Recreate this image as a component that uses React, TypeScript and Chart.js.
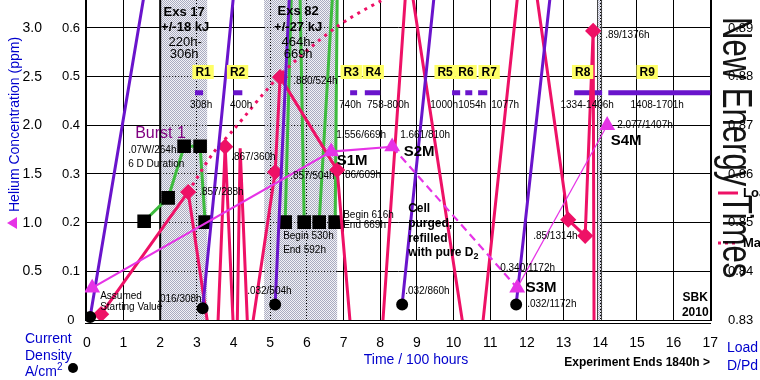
import React, { useEffect, useRef } from 'react';
import { Chart, registerables } from 'chart.js';

Chart.register(...registerables);

const FONT = '"Liberation Sans", Arial, Helvetica, sans-serif';
const PINK = '#ee1166';
const MAGENTA = '#e633e6';
const PURPLE = '#6a14cc';
const GREEN = '#3dbb3d';
const BLUE = '#0000cc';

// ---- axes ----
const xTickValues = [0, 1, 2, 3, 4, 5, 6, 7, 8, 9, 10, 11, 12, 13, 14, 15, 16, 17];
const cdTickValues = [0, 0.1, 0.2, 0.3, 0.4, 0.5, 0.6];
const heTickValues = [0.5, 1.0, 1.5, 2.0, 2.5, 3.0];
const loadTickValues = [0.83, 0.84, 0.85, 0.86, 0.87, 0.88, 0.89];

// ---- helium (ppm) ----
const heTime = [0.145, 6.662, 8.326, 11.735, 14.189];
const hePpm = [0.33, 1.73, 1.78, 0.33, 2.0];

// ---- current density ramps (A/cm2) ----
const cdStartTime = [0.09, 3.158, 5.135, 8.598, 11.707];
const cdStartValue = [0.006, 0.024, 0.032, 0.032, 0.032];
const cdEndTime = [1.634, 4.044, 5.544, 9.517, 12.686];
const cdEndValue = [0.7, 0.7, 0.7, 0.7, 0.7];

// ---- load D/Pd ----
const loadTime = [0.39, 2.763, 3.515, 3.772, 4.072, 4.181, 4.41, 5.135, 5.271, 6.826, 7.671, 8.748, 10.573, 11.972, 13.126, 13.589, 13.807, 13.834];
const loadValue = [0.8312, 0.8563, 0.8181, 0.8656, 0.8156, 0.8653, 0.8236, 0.8604, 0.8799, 0.8608, 0.786, 0.9032, 0.8134, 0.9126, 0.8506, 0.8473, 0.8894, 0.8218];
const loadMarked = [true, true, false, true, false, false, false, true, true, true, false, false, false, false, true, true, true, false];

// ---- max load ----
const maxTime = [2.763, 3.444, 3.99, 5.271, 6.771, 8.08, 9.36];
const maxLoad = [0.8563, 0.8643, 0.869, 0.8803, 0.89, 0.8958, 0.9];

// ---- bursts ----
const burst1Time = [1.563, 2.217, 2.653, 3.089, 3.226];
const burst1Value = [0.203, 0.251, 0.357, 0.357, 0.201];
const burst2StartTime = [5.408, 5.927, 6.336, 6.771];
const burst2StartValue = [0.201, 0.201, 0.201, 0.201];
const burst2EndTime = [5.588, 5.806, 6.725, 6.831];
const burst2EndValue = [0.7, 0.7, 0.7, 0.7];

// ---- runs R1..R9 ----
const runNames = ['R1', 'R2', 'R3', 'R4', 'R5', 'R6', 'R7', 'R8', 'R9'];
const runStart = [2.95, 3.99, 7.18, 7.58, 9.96, 10.32, 10.67, 13.29, 14.22];
const runEnd = [3.17, 4.24, 7.37, 8.0, 10.18, 10.51, 10.92, 14.05, 17.0];
const runLevel = 0.467;
const runLabelTime = [3.17, 4.11, 7.21, 7.81, 9.77, 10.34, 10.97, 13.52, 15.28];
const runHours = ['308h', '400h', '740h', '758-800h', '1000h', '1054h', '1077h', '1334-1406h', '1408-1701h'];
const runHourTime = [3.116, 4.208, 7.18, 8.216, 9.744, 10.508, 11.408, 13.644, 15.553];

// ---- excess heat periods ----
const exsStart = [2.0, 4.835, 13.916];
const exsEnd = [3.281, 6.826, 14.053];

// ---- annotations (text, time, current-density-axis value) ----
const pointNotes: [string, number, number][] = [
  ['.07W/264h', 1.126, 0.349],
  ['6 D Duration', 1.126, 0.321],
  ['.857/288h', 3.063, 0.263],
  ['.867/360h', 3.935, 0.335],
  ['.880/524h', 5.626, 0.491],
  ['.857/504h', 5.544, 0.296],
  ['.86/609h', 6.962, 0.298],
  ['1.556/669h', 6.798, 0.38],
  ['1.661/810h', 8.543, 0.38],
  ['2.077/1407h', 14.461, 0.401],
  ['.89/1376h', 14.134, 0.586],
  ['.85/1314h', 12.171, 0.173],
  ['0.340/1172h', 11.271, 0.107],
  ['.032/1172h', 12.007, 0.033],
  ['.032/860h', 8.68, 0.06],
  ['.032/504h', 4.371, 0.06],
  ['.016/308h', 1.917, 0.043],
  ['Assumed', 0.363, 0.049],
  ['Starting Value', 0.363, 0.027],
  ['Begin 530h', 5.353, 0.173],
  ['End 592h', 5.353, 0.144],
  ['Begin 616h', 6.99, 0.216],
  ['End 669h', 6.99, 0.195],
];
const exsNotes: [string, number, number, boolean][] = [
  ['Exs 17', 2.653, 0.633, true],
  ['+/-18 kJ', 2.681, 0.602, true],
  ['220h-', 2.681, 0.571, false],
  ['306h', 2.653, 0.545, false],
  ['Exs 82', 5.762, 0.635, true],
  ['+/-27 kJ', 5.762, 0.602, true],
  ['464h-', 5.762, 0.571, false],
  ['669h', 5.762, 0.545, false],
];
const sampleNotes: [string, number, number][] = [
  ['S1M', 7.235, 0.327],
  ['S2M', 9.062, 0.345],
  ['S3M', 12.389, 0.066],
  ['S4M', 14.707, 0.368],
];
const cellLines = ['Cell', 'purged,', 'refilled', 'with pure D'];
const cellTime = 8.762;
const cellLevels = [0.228, 0.197, 0.168, 0.138];

const pts = (xs: number[], ys: number[]) => xs.map((x, i) => ({ x, y: ys[i] }));
const segs = (x0: number[], y0: number[], x1: number[], y1: number[]) =>
  x0.flatMap((x, i) => [{ x, y: y0[i] }, { x: x1[i], y: y1[i] }, { x: x1[i], y: null as any }]);

function makePattern(ctx: CanvasRenderingContext2D) {
  const c = document.createElement('canvas');
  c.width = 2;
  c.height = 2;
  const g = c.getContext('2d')!;
  g.fillStyle = '#f2f2f6';
  g.fillRect(0, 0, 2, 2);
  g.fillStyle = '#a9abc0';
  g.fillRect(0, 0, 1, 1);
  g.fillRect(1, 1, 1, 1);
  return ctx.createPattern(c, 'repeat')!;
}

function txt(ctx: CanvasRenderingContext2D, s: string, x: number, y: number, font: string, color = '#000', align: CanvasTextAlign = 'left', base: CanvasTextBaseline = 'middle') {
  ctx.font = font;
  ctx.fillStyle = color;
  ctx.textAlign = align;
  ctx.textBaseline = base;
  ctx.fillText(s, x, y);
}

const overlay = {
  id: 'overlay',
  beforeDraw(chart: any) {
    const { ctx } = chart;
    ctx.save();
    ctx.fillStyle = '#fff';
    ctx.fillRect(0, 0, chart.width, chart.height);
    ctx.restore();
  },
  beforeDatasetsDraw(chart: any) {
    const { ctx, chartArea: a, scales } = chart;
    const xs = scales.x, ys = scales.y;
    const pat = makePattern(ctx);
    ctx.save();
    exsStart.forEach((s, i) => {
      const x0 = xs.getPixelForValue(s), x1 = xs.getPixelForValue(exsEnd[i]);
      ctx.fillStyle = pat;
      ctx.fillRect(x0, a.top, x1 - x0, a.bottom - a.top);
      ctx.strokeStyle = '#000';
      ctx.lineWidth = 1;
      ctx.setLineDash([1, 2]);
      ctx.beginPath();
      xTickValues.forEach((v) => {
        const p = Math.round(xs.getPixelForValue(v) - 0.5) + 0.5;
        if (p > x0 + 1 && p < x1 - 1) { ctx.moveTo(p, a.top); ctx.lineTo(p, a.bottom); }
      });
      cdTickValues.forEach((v) => {
        if (v <= 0) return;
        const p = Math.round(ys.getPixelForValue(v) - 0.5) + 0.5;
        ctx.moveTo(x0, p); ctx.lineTo(x1, p);
      });
      ctx.stroke();
      ctx.setLineDash([]);
      if (i === 0) {
        ctx.lineWidth = 2;
        ctx.beginPath(); ctx.moveTo(x0, a.top); ctx.lineTo(x0, a.bottom); ctx.stroke();
      }
      if (i === 2) {
        ctx.strokeStyle = '#444';
        ctx.lineWidth = 1;
        ctx.beginPath();
        ctx.moveTo(Math.round(x0) + 0.5, a.top); ctx.lineTo(Math.round(x0) + 0.5, a.bottom);
        ctx.moveTo(Math.round(x1) - 0.5, a.top); ctx.lineTo(Math.round(x1) - 0.5, a.bottom);
        ctx.stroke();
      }
    });
    ctx.restore();
  },
  afterDatasetsDraw(chart: any) {
    const { ctx, chartArea: a, scales } = chart;
    const xs = scales.x, ys = scales.y;
    const X = (v: number) => xs.getPixelForValue(v);
    const Y = (v: number) => ys.getPixelForValue(v);
    ctx.save();
    // double bottom axis line
    ctx.strokeStyle = '#000';
    ctx.lineWidth = 1;
    ctx.beginPath();
    ctx.moveTo(a.left, a.bottom + 3.5);
    ctx.lineTo(a.right, a.bottom + 3.5);
    ctx.stroke();

    // run labels (yellow boxes)
    runNames.forEach((s, i) => {
      const px = X(runLabelTime[i]), py = ys.getPixelForValue(0.5096);
      ctx.font = `bold 12px ${FONT}`;
      const w = ctx.measureText(s).width + 6;
      ctx.fillStyle = '#ffff66';
      ctx.fillRect(px - w / 2, py - 7, w, 14);
      txt(ctx, s, px, py + 0.5, `bold 12px ${FONT}`, '#000', 'center');
    });
    runHours.forEach((s, i) => txt(ctx, s, X(runHourTime[i]), Y(0.442), `10px ${FONT}`, '#000', 'center'));

    pointNotes.forEach(([s, x, y]) => txt(ctx, s, X(x), Y(y), `10px ${FONT}`));
    exsNotes.forEach(([s, x, y, b]) => txt(ctx, s, X(x), Y(y), `${b ? 'bold ' : ''}13px ${FONT}`, '#000', 'center'));
    sampleNotes.forEach(([s, x, y]) => txt(ctx, s, X(x), Y(y), `bold 15px ${FONT}`, '#000', 'center'));
    txt(ctx, 'Burst 1', X(1.317), Y(0.382), `16px ${FONT}`, '#800080');

    cellLines.forEach((s, i) => {
      const px = X(cellTime), py = Y(cellLevels[i]);
      txt(ctx, s, px, py, `bold 12px ${FONT}`);
      if (i === cellLines.length - 1) {
        ctx.font = `bold 12px ${FONT}`;
        const w = ctx.measureText(s).width;
        txt(ctx, '2', px + w, py + 4, `bold 9px ${FONT}`);
      }
    });
    txt(ctx, 'SBK', X(16.59), Y(0.045), `bold 12px ${FONT}`, '#000', 'center');
    txt(ctx, '2010', X(16.59), Y(0.016), `bold 12px ${FONT}`, '#000', 'center');

    // outer texts
    txt(ctx, 'Current', 25, 343, `14px ${FONT}`, BLUE, 'left', 'alphabetic');
    txt(ctx, 'Density', 25, 360, `14px ${FONT}`, BLUE, 'left', 'alphabetic');
    txt(ctx, 'A/cm', 25, 376, `14px ${FONT}`, BLUE, 'left', 'alphabetic');
    ctx.font = `14px ${FONT}`;
    const wA = ctx.measureText('A/cm').width;
    txt(ctx, '2', 25 + wA, 370, `10px ${FONT}`, BLUE, 'left', 'alphabetic');
    ctx.fillStyle = '#000';
    ctx.beginPath(); ctx.arc(73, 368, 5, 0, Math.PI * 2); ctx.fill();

    txt(ctx, 'Time / 100 hours', 416, 364, `14px ${FONT}`, BLUE, 'center', 'alphabetic');
    txt(ctx, 'Experiment Ends 1840h >', 710, 366, `bold 12px ${FONT}`, '#000', 'right', 'alphabetic');
    txt(ctx, 'Load', 727, 352, `14px ${FONT}`, BLUE, 'left', 'alphabetic');
    txt(ctx, 'D/Pd', 727, 370, `14px ${FONT}`, BLUE, 'left', 'alphabetic');

    // helium axis title
    ctx.save();
    ctx.translate(15, 212);
    ctx.rotate(-Math.PI / 2);
    txt(ctx, 'Helium Concentration (ppm)', 0, 0, `14px ${FONT}`, BLUE, 'left', 'middle');
    ctx.restore();
    ctx.fillStyle = MAGENTA;
    ctx.beginPath(); ctx.moveTo(7, 223); ctx.lineTo(17, 217); ctx.lineTo(17, 229); ctx.closePath(); ctx.fill();

    // legend
    ctx.strokeStyle = PINK;
    ctx.lineWidth = 3;
    ctx.beginPath(); ctx.moveTo(718, 193); ctx.lineTo(738, 193); ctx.stroke();
    txt(ctx, 'Load D/Pd', 743, 193, `bold 13px ${FONT}`);
    ctx.setLineDash([3, 4]);
    ctx.beginPath(); ctx.moveTo(718, 243); ctx.lineTo(738, 243); ctx.stroke();
    ctx.setLineDash([]);
    txt(ctx, 'Max', 743, 243, `bold 13px ${FONT}`);

    // big vertical watermark
    ctx.save();
    ctx.translate(723, 17);
    ctx.rotate(Math.PI / 2);
    ctx.scale(0.74, 1);
    ctx.globalAlpha = 0.92;
    txt(ctx, 'New Energy Times', 0, 0, `42px ${FONT}`, '#000', 'left', 'alphabetic');
    ctx.restore();

    ctx.restore();
  },
};

const setTicks = (vals: number[]) => (scale: any) => {
  scale.ticks = vals.map((v) => ({ value: v }));
};
const fix = (w?: number, h?: number) => (scale: any) => {
  if (w !== undefined) scale.width = w;
  if (h !== undefined) scale.height = h;
  scale.paddingTop = 0;
  scale.paddingBottom = 0;
  scale.paddingLeft = 0;
  scale.paddingRight = 0;
};

function buildConfig(): any {
  return {
    type: 'line',
    data: {
      datasets: [
        {
          label: 'Helium',
          yAxisID: 'yHe',
          data: pts(heTime, hePpm),
          borderColor: MAGENTA,
          backgroundColor: MAGENTA,
          borderWidth: 2.2,
          pointStyle: 'triangle',
          pointRadius: 7,
          pointBackgroundColor: MAGENTA,
          pointBorderColor: MAGENTA,
          segment: {
            borderDash: (c: any) => (c.p0DataIndex === 2 ? [8, 5] : undefined),
            borderWidth: (c: any) => (c.p0DataIndex === 3 ? 1.2 : undefined),
          },
          clip: 0,
        },
        {
          label: 'Current Density',
          yAxisID: 'y',
          data: segs(cdStartTime, cdStartValue, cdEndTime, cdEndValue),
          borderColor: PURPLE,
          borderWidth: 3,
          pointRadius: (c: any) => (c.dataIndex % 3 === 0 ? 4.5 : 0),
          pointBackgroundColor: '#000',
          pointBorderColor: '#000',
          spanGaps: false,
          clip: { left: 0, top: 0, right: 0, bottom: 6 },
        },
        {
          label: 'Load D/Pd',
          yAxisID: 'yLoad',
          data: pts(loadTime, loadValue),
          borderColor: PINK,
          borderWidth: 3,
          pointStyle: 'rectRot',
          pointRadius: (c: any) => (loadMarked[c.dataIndex] ? 6 : 0),
          pointBackgroundColor: PINK,
          pointBorderColor: PINK,
          clip: 0,
        },
        {
          label: 'Max',
          yAxisID: 'yLoad',
          data: pts(maxTime, maxLoad),
          borderColor: PINK,
          borderWidth: 3,
          borderDash: [3, 5],
          tension: 0.3,
          pointRadius: 0,
          clip: 0,
        },
        {
          label: 'Burst 1',
          yAxisID: 'y',
          data: pts(burst1Time, burst1Value),
          borderColor: GREEN,
          borderWidth: 3,
          pointStyle: 'rect',
          pointRadius: 7.5,
          pointBackgroundColor: '#000',
          pointBorderColor: '#000',
          clip: 0,
        },
        {
          label: 'Burst 2',
          yAxisID: 'y',
          data: segs(burst2StartTime, burst2StartValue, burst2EndTime, burst2EndValue),
          borderColor: GREEN,
          borderWidth: 3,
          pointStyle: 'rect',
          pointRadius: (c: any) => (c.dataIndex % 3 === 0 ? 7.5 : 0),
          pointBackgroundColor: '#000',
          pointBorderColor: '#000',
          spanGaps: false,
          clip: 0,
        },
        {
          label: 'Runs',
          yAxisID: 'y',
          data: segs(runStart, runStart.map(() => runLevel), runEnd, runEnd.map(() => runLevel)),
          borderColor: PURPLE,
          borderWidth: 5,
          borderCapStyle: 'butt',
          pointRadius: 0,
          spanGaps: false,
          clip: 0,
        },
      ],
    },
    options: {
      responsive: false,
      animation: false,
      devicePixelRatio: 1,
      events: [],
      layout: { padding: 0, autoPadding: false },
      plugins: { legend: { display: false }, tooltip: { enabled: false }, title: { display: false } },
      scales: {
        x: {
          type: 'linear',
          position: 'bottom',
          min: -0.05,
          max: 17.02,
          afterBuildTicks: setTicks(xTickValues),
          afterFit: fix(undefined, 60),
          grid: { color: '#000', lineWidth: 1, drawTicks: false },
          border: { display: true, color: '#000', width: 1 },
          ticks: { font: { size: 14, family: FONT }, color: '#000', padding: 15, autoSkip: false, maxRotation: 0, callback: (v: any) => String(v) },
        },
        y: {
          type: 'linear',
          position: 'left',
          weight: 0,
          min: 0,
          max: 0.6575,
          afterBuildTicks: setTicks(cdTickValues),
          afterFit: fix(40),
          grid: { color: '#000', lineWidth: 1, drawTicks: false },
          border: { display: true, color: '#000', width: 1 },
          ticks: { crossAlign: 'center', padding: 5, font: { size: 13, family: FONT }, color: '#000', callback: (v: any) => (v === 0 ? '0' : Number(v).toFixed(1)) },
        },
        yHe: {
          type: 'linear',
          position: 'left',
          weight: 1,
          min: 0,
          max: 3.2875,
          afterBuildTicks: setTicks(heTickValues),
          afterFit: fix(45),
          grid: { display: false, drawTicks: false },
          border: { display: false },
          ticks: { crossAlign: 'center', padding: 3, font: { size: 14, family: FONT }, color: '#000', callback: (v: any) => Number(v).toFixed(1) },
        },
        yLoad: {
          type: 'linear',
          position: 'right',
          min: 0.83,
          max: 0.89575,
          afterBuildTicks: setTicks(loadTickValues),
          afterFit: fix(49),
          grid: { display: false, drawTicks: false },
          border: { display: true, color: '#000', width: 1 },
          ticks: { crossAlign: 'near', padding: 17, font: { size: 13, family: FONT }, color: '#000', callback: (v: any) => Number(v).toFixed(2) },
        },
      },
    },
    plugins: [overlay],
  };
}

export default function App() {
  const ref = useRef<HTMLCanvasElement>(null);
  useEffect(() => {
    Chart.defaults.font.family = FONT;
    Chart.defaults.color = '#000';
    const chart = new Chart(ref.current!, buildConfig());
    return () => chart.destroy();
  }, []);
  return (
    <div style={{ position: 'absolute', left: 0, top: 0, width: 760, height: 380, background: '#fff' }}>
      <canvas ref={ref} width={760} height={380} style={{ display: 'block', width: 760, height: 380 }} />
    </div>
  );
}
